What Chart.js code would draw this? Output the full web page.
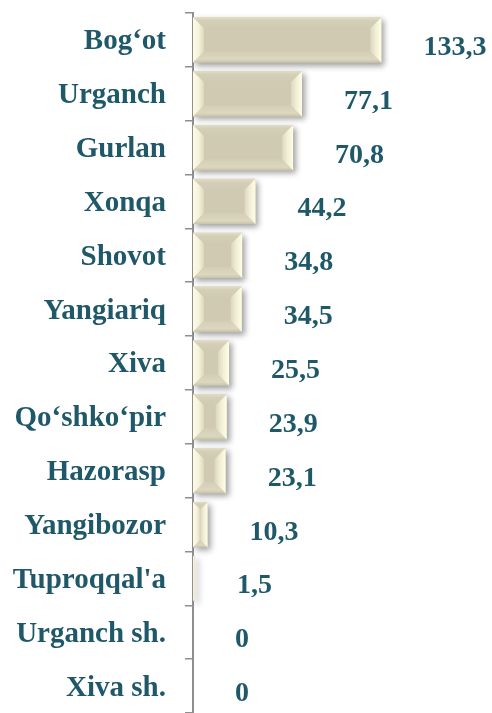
<!DOCTYPE html>
<html>
<head>
<meta charset="utf-8">
<script src="https://cdn.jsdelivr.net/npm/chart.js@4.4.1/dist/chart.umd.min.js"></script>
<style>
  html, body { margin: 0; padding: 0; background: #ffffff; }
  #wrap { width: 492px; height: 713px; position: relative; }
</style>
</head>
<body>
<div id="wrap"><canvas id="c" width="492" height="713"></canvas></div>
<script>
const categories = ["Bog\u2018ot", "Urganch", "Gurlan", "Xonqa", "Shovot", "Yangiariq", "Xiva", "Qo\u2018shko\u2018pir", "Hazorasp", "Yangibozor", "Tuproqqal'a", "Urganch sh.", "Xiva sh."];
const values = [133.3, 77.1, 70.8, 44.2, 34.8, 34.5, 25.5, 23.9, 23.1, 10.3, 1.5, 0, 0];
const valueLabels = ["133,3", "77,1", "70,8", "44,2", "34,8", "34,5", "25,5", "23,9", "23,1", "10,3", "1,5", "0", "0"];

const TEXT = '#1f5969';
const FONT_FAMILY = "'Liberation Serif', 'Times New Roman', serif";

const shadowPlugin = {
  id: 'barShadow',
  beforeDatasetDraw(chart) {
    const ctx = chart.ctx;
    ctx.save();
    ctx.shadowColor = 'rgba(0,0,0,0.38)';
    ctx.shadowBlur = 6;
    ctx.shadowOffsetX = 3;
    ctx.shadowOffsetY = 3;
  },
  afterDatasetDraw(chart) {
    chart.ctx.restore();
    const ctx = chart.ctx;
    const meta = chart.getDatasetMeta(0);
    meta.data.forEach((el) => {
      const x0 = Math.min(el.base, el.x), x1 = Math.max(el.base, el.x);
      const y0 = el.y - el.height / 2, y1 = el.y + el.height / 2;
      const w = x1 - x0, h = y1 - y0;
      if (w < 1) return;
      const b = Math.min(11, w / 2, h / 2);
      ctx.save();
      ctx.beginPath();
      ctx.moveTo(x0, y0); ctx.lineTo(x1, y0); ctx.lineTo(x1 - b, y0 + b); ctx.lineTo(x0 + b, y0 + b); ctx.closePath();
      let g = ctx.createLinearGradient(0, y0, 0, y0 + b);
      g.addColorStop(0, '#e2ddc6'); g.addColorStop(0.3, '#d4cfb7'); g.addColorStop(1, '#cfcab1');
      ctx.fillStyle = g; ctx.fill();
      ctx.beginPath();
      ctx.moveTo(x0, y1); ctx.lineTo(x1, y1); ctx.lineTo(x1 - b, y1 - b); ctx.lineTo(x0 + b, y1 - b); ctx.closePath();
      g = ctx.createLinearGradient(0, y1 - b, 0, y1);
      g.addColorStop(0, '#d3ceb5'); g.addColorStop(0.7, '#dcd7bf'); g.addColorStop(1, '#c8c3aa');
      ctx.fillStyle = g; ctx.fill();
      ctx.beginPath();
      ctx.moveTo(x0, y0); ctx.lineTo(x0 + b, y0 + b); ctx.lineTo(x0 + b, y1 - b); ctx.lineTo(x0, y1); ctx.closePath();
      g = ctx.createLinearGradient(x0, 0, x0 + b, 0);
      g.addColorStop(0, '#fefbe6'); g.addColorStop(0.55, '#f6f2da'); g.addColorStop(1, '#dbd6be');
      ctx.fillStyle = g; ctx.fill();
      ctx.beginPath();
      ctx.moveTo(x1, y0); ctx.lineTo(x1 - b, y0 + b); ctx.lineTo(x1 - b, y1 - b); ctx.lineTo(x1, y1); ctx.closePath();
      g = ctx.createLinearGradient(x1 - b, 0, x1, 0);
      g.addColorStop(0, '#dcd7bf'); g.addColorStop(0.5, '#f3efd6'); g.addColorStop(1, '#fffde6');
      ctx.fillStyle = g; ctx.fill();
      ctx.restore();
    });
  }
};

const valueLabelPlugin = {
  id: 'valueLabels',
  afterDraw(chart) {
    const ctx = chart.ctx;
    const meta = chart.getDatasetMeta(0);
    ctx.save();
    ctx.font = 'bold 28px ' + FONT_FAMILY;
    ctx.fillStyle = TEXT;
    ctx.textAlign = 'left';
    ctx.textBaseline = 'alphabetic';
    meta.data.forEach((el, i) => {
      ctx.fillText(valueLabels[i], el.x + 42, el.y + 15);
    });
    ctx.restore();
  }
};

new Chart(document.getElementById('c'), {
  type: 'bar',
  data: {
    labels: categories,
    datasets: [{
      data: values,
      backgroundColor: '#cfcab1',
      borderWidth: 0,
      barPercentage: 0.84,
      categoryPercentage: 1.0
    }]
  },
  options: {
    indexAxis: 'y',
    responsive: false,
    animation: false,
    devicePixelRatio: 1,
    layout: { padding: { top: 13, bottom: 0, left: 0, right: 87 } },
    plugins: { legend: { display: false }, tooltip: { enabled: false } },
    scales: {
      x: { display: false, min: 0, max: 150 },
      y: {
        position: 'left',
        afterFit(scale) { scale.width = 193; scale.paddingTop = 0; scale.paddingBottom = 0; },
        grid: { display: true, drawOnChartArea: false, drawTicks: true, tickLength: 8, color: '#8f8f8f', lineWidth: 1.5 },
        border: { display: true, color: '#8f8f8f', width: 2 },
        ticks: {
          color: TEXT,
          padding: 19,
          labelOffset: 2,
          font: { family: FONT_FAMILY, size: 29, weight: 'bold' }
        }
      }
    }
  },
  plugins: [shadowPlugin, valueLabelPlugin]
});
</script>
</body>
</html>
